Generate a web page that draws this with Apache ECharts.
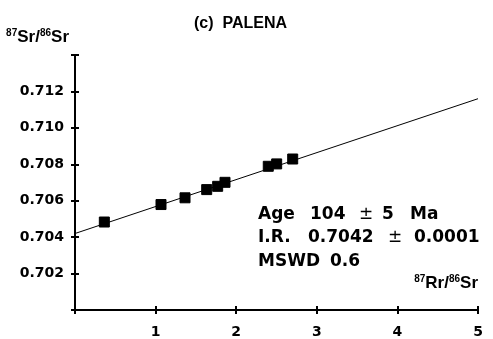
<!DOCTYPE html>
<html>
<head>
<meta charset="utf-8">
<script src="https://cdn.jsdelivr.net/npm/echarts@6/dist/echarts.min.js"></script>
<style>
  html, body { margin: 0; padding: 0; background: #fff; }
  #main { width: 493px; height: 339px; }
</style>
</head>
<body>
<div id="main"></div>
<script>
// 87Rb/86Sr vs 87Sr/86Sr, Palena samples
var rbSr = [0.364, 1.067, 1.365, 1.634, 1.770, 1.861, 2.398, 2.502, 2.701];
var srSr = [0.70483, 0.70579, 0.70616, 0.70661, 0.70679, 0.70701, 0.70789, 0.70802, 0.70829];
// isochron ends
var fitX = [0, 5];
var fitY = [0.7042, 0.7116];
// axis ranges
var xTicks = [0, 1, 2, 3, 4, 5];
var yTicks = [0.700, 0.702, 0.704, 0.706, 0.708, 0.710, 0.712, 0.714];
// annotation block
var annoLines = [
  ['Age', '104', '±', '5', 'Ma'],
  ['I.R.', '0.7042', '±', '0.0001'],
  ['MSWD', '0.6']
];

var chartDom = document.getElementById('main');
var myChart = echarts.init(chartDom);

var tickFont = { fontFamily: 'DejaVu Sans', fontWeight: 'bold', fontSize: 14, color: '#000' };
var nameRich = {
  sup: { fontFamily: 'Liberation Sans', fontWeight: 'bold', fontSize: 10, color: '#000', verticalAlign: 'top', lineHeight: 18 },
  b: { fontFamily: 'Liberation Sans', fontWeight: 'bold', fontSize: 17, color: '#000', lineHeight: 18 }
};

// word positions for the annotation (layout only)
var wordX = [
  [258, 310, 359, 382, 410],
  [258, 308, 388, 414],
  [258, 330]
];
var lineY = [215, 238, 262];
var graphics = [];
annoLines.forEach(function (words, i) {
  words.forEach(function (w, j) {
    graphics.push({
      type: 'text',
      style: {
        text: w,
        x: wordX[i][j],
        y: lineY[i],
        fill: '#000',
        font: (w === '±' ? 'normal ' : 'bold ') + '17px "DejaVu Sans"',
        textAlign: 'left',
        textVerticalAlign: 'middle'
      }
    });
  });
});

var xMin = xTicks[0], xMax = xTicks[xTicks.length - 1];
var yMin = yTicks[0], yMax = yTicks[yTicks.length - 1];

var option = {
  backgroundColor: '#fff',
  animation: false,
  title: {
    text: '(c)  PALENA',
    left: 189,
    top: 11,
    textStyle: { fontFamily: 'Liberation Sans', fontWeight: 'bold', fontSize: 16, color: '#000' }
  },
  grid: { left: 75, right: 15, top: 55, bottom: 29 },
  xAxis: [
    {
      type: 'value',
      min: xMin, max: xMax, interval: 1,
      splitLine: { show: false },
      axisLine: { lineStyle: { color: '#000', width: 2 } },
      axisTick: { length: 4, lineStyle: { color: '#000', width: 2 } },
      axisLabel: Object.assign({ margin: 15, formatter: function (v) { return v === 0 ? '' : v; } }, tickFont),
      name: '{sup|87}{b|Rr/}{sup|86}{b|Sr}',
      nameLocation: 'end',
      nameGap: 0,
      nameTextStyle: { align: 'right', verticalAlign: 'bottom', padding: [0, 0, 18, 0], rich: nameRich }
    },
    {
      type: 'value', position: 'bottom',
      min: xMin, max: xMax, interval: 1,
      splitLine: { show: false },
      axisLine: { show: false },
      axisTick: { inside: true, length: 4, lineStyle: { color: '#000', width: 2 } },
      axisLabel: { show: false }
    }
  ],
  yAxis: [
    {
      type: 'value',
      min: yMin, max: yMax, interval: 0.002,
      splitLine: { show: false },
      axisLine: { lineStyle: { color: '#000', width: 2 } },
      axisTick: { length: 4, lineStyle: { color: '#000', width: 2 } },
      axisLabel: Object.assign({
        margin: 11,
        formatter: function (v) {
          if (Math.abs(v - yMin) < 1e-7 || Math.abs(v - yMax) < 1e-7) return '';
          return v.toFixed(3);
        }
      }, tickFont),
      name: '{sup|87}{b|Sr/}{sup|86}{b|Sr}',
      nameLocation: 'end',
      nameGap: 9,
      nameTextStyle: { align: 'right', verticalAlign: 'bottom', padding: [0, 6, 0, 0], rich: nameRich }
    },
    {
      type: 'value', position: 'left',
      min: yMin, max: yMax, interval: 0.002,
      splitLine: { show: false },
      axisLine: { show: false },
      axisTick: { inside: true, length: 4, lineStyle: { color: '#000', width: 2 } },
      axisLabel: { show: false }
    }
  ],
  graphic: graphics,
  series: [
    {
      type: 'line',
      xAxisIndex: 0, yAxisIndex: 0,
      data: fitX.map(function (x, i) { return [x, fitY[i]]; }),
      symbol: 'none',
      lineStyle: { color: '#000', width: 1 },
      silent: true
    },
    {
      type: 'scatter',
      xAxisIndex: 0, yAxisIndex: 0,
      data: rbSr.map(function (x, i) { return [x, srSr[i]]; }),
      symbol: 'rect',
      symbolSize: 10,
      itemStyle: { color: '#000', borderColor: '#000', borderWidth: 1, opacity: 1 },
      emphasis: { disabled: true },
      z: 3
    }
  ]
};

option && myChart.setOption(option);
</script>
</body>
</html>
